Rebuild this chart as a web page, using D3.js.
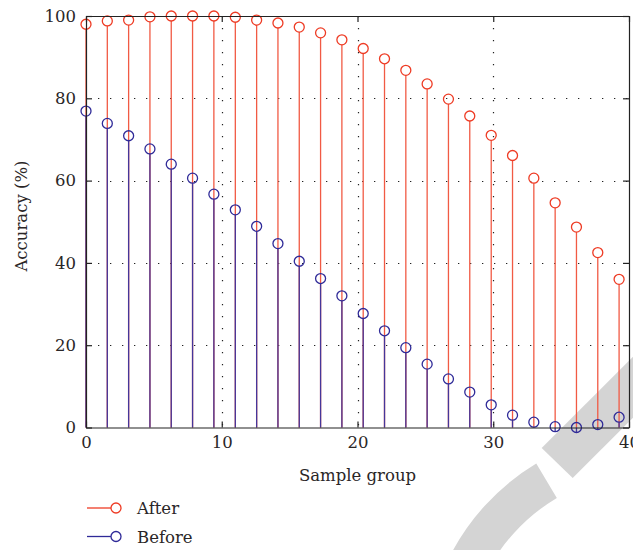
<!DOCTYPE html>
<html>
<head>
<meta charset="utf-8">
<script src="https://cdn.jsdelivr.net/npm/d3@7"></script>
<style>
  body { margin: 0; background: #fff; }
  svg text { font-family: "DejaVu Serif", "Liberation Serif", serif; fill: #2a2627; }
</style>
</head>
<body>
<svg id="chart" width="633" height="550"></svg>
<script>
// sample positions (x axis) and accuracy values
var sampleX = [0, 1.57, 3.14, 4.71, 6.28, 7.85, 9.42, 11.0, 12.57, 14.14, 15.71, 17.28, 18.85,
               20.42, 21.99, 23.56, 25.13, 26.70, 28.27, 29.85, 31.42, 32.99, 34.56, 36.13, 37.70, 39.27];
var afterVals = [98.0, 98.8, 99.0, 99.8, 100, 100, 100, 99.7, 99.0, 98.3, 97.3, 95.9, 94.2,
                 92.1, 89.6, 86.8, 83.5, 79.8, 75.7, 71.0, 66.1, 60.6, 54.6, 48.7, 42.5, 36.0];
var beforeVals = [76.9, 73.9, 70.9, 67.7, 64.0, 60.6, 56.7, 52.9, 48.9, 44.7, 40.4, 36.2, 32.0,
                  27.7, 23.5, 19.4, 15.4, 11.8, 8.6, 5.5, 3.0, 1.3, 0.2, 0.0, 0.7, 2.5];
var xTicks = [0, 10, 20, 30, 40];
var yTicks = [0, 20, 40, 60, 80, 100];
var seriesNames = ["After", "Before"];
var seriesColors = ["#ee3b24", "#2f2a98"];
var stemColors = ["#f15a44", "#45369a"];

var svg = d3.select("#chart");
var x = d3.scaleLinear().domain([0, 40]).range([86, 629]);
var y = d3.scaleLinear().domain([0, 100]).range([427.5, 16]);
var tickLen = 6;
var fontSize = 16.5;

/***********************************************************************************************************/
// grey watermark behind the plot

var wm = svg.append("g").attr("fill", "#d4d4d4");
wm.append("path").attr("d", "M541.7,448L572.7,478L633,417.7L633,356.7Z");
wm.append("path")
  .attr("transform", "translate(654,660)")
  .attr("d", d3.arc().innerRadius(189).outerRadius(229).startAngle(-0.54).endAngle(-1.7)());

/***********************************************************************************************************/
// dotted grid

var grid = svg.append("g").attr("stroke", "#222").attr("stroke-width", 1.2).attr("stroke-dasharray", "1.3,10.7");
grid.selectAll(".gy").data(yTicks.filter(function(d){return d > 0 && d < 100;})).enter().append("line")
  .attr("x1", x(0)).attr("x2", x(40))
  .attr("y1", function(d){return Math.round(y(d)) + 0.5;})
  .attr("y2", function(d){return Math.round(y(d)) + 0.5;});
grid.selectAll(".gx").data(xTicks.filter(function(d){return d > 0 && d < 40;})).enter().append("line")
  .attr("y1", y(100)).attr("y2", y(0))
  .attr("x1", function(d){return Math.round(x(d)) + 0.5;})
  .attr("x2", function(d){return Math.round(x(d)) + 0.5;});

/***********************************************************************************************************/
// stems and markers

function drawStems(vals, i){
  var g = svg.append("g");
  g.selectAll("line").data(vals).enter().append("line")
    .attr("x1", function(d, j){return x(sampleX[j]);})
    .attr("x2", function(d, j){return x(sampleX[j]);})
    .attr("y1", y(0))
    .attr("y2", function(d){return y(d) + 5;})
    .attr("stroke", stemColors[i])
    .attr("stroke-width", 1.3);
  g.selectAll("circle").data(vals).enter().append("circle")
    .attr("cx", function(d, j){return x(sampleX[j]);})
    .attr("cy", function(d){return y(d);})
    .attr("r", 5)
    .attr("fill", "none")
    .attr("stroke", seriesColors[i])
    .attr("stroke-width", 1.3);
}
drawStems(afterVals, 0);
drawStems(beforeVals, 1);

/***********************************************************************************************************/
// axes box with inward ticks on all four sides

var axL = svg.append("g").attr("transform", "translate(" + x(0) + ",0)")
  .call(d3.axisLeft(y).tickValues(yTicks).tickSizeInner(-tickLen).tickSizeOuter(0).tickPadding(10));
var axB = svg.append("g").attr("transform", "translate(0," + y(0) + ")")
  .call(d3.axisBottom(x).tickValues(xTicks).tickSizeInner(-tickLen).tickSizeOuter(0).tickPadding(9));
var axR = svg.append("g").attr("transform", "translate(" + x(40) + ",0)")
  .call(d3.axisRight(y).tickValues(yTicks).tickSizeInner(-tickLen).tickSizeOuter(0).tickFormat(""));
var axT = svg.append("g").attr("transform", "translate(0," + y(100) + ")")
  .call(d3.axisTop(x).tickValues(xTicks).tickSizeInner(-tickLen).tickSizeOuter(0).tickFormat(""));

[axL, axB, axR, axT].forEach(function(a){
  a.attr("font-size", null).attr("font-family", null);
  a.selectAll("path, line").attr("stroke", "#222").attr("stroke-width", 1.2);
  a.selectAll("text").attr("font-size", fontSize).attr("fill", "#2a2627");
});

/***********************************************************************************************************/
// axis titles

svg.append("text")
  .attr("x", (x(0) + x(40)) / 2).attr("y", 481)
  .attr("text-anchor", "middle").attr("font-size", fontSize)
  .text("Sample group");

svg.append("text")
  .attr("transform", "translate(27,216) rotate(-90)")
  .attr("text-anchor", "middle").attr("font-size", fontSize)
  .text("Accuracy (%)");

/***********************************************************************************************************/
// legend

var legend = svg.append("g").selectAll("g").data(seriesNames).enter().append("g")
  .attr("transform", function(d, i){return "translate(0," + (508 + i * 28.5) + ")";});
legend.append("line").attr("x1", 87).attr("x2", 111).attr("y1", 0).attr("y2", 0)
  .attr("stroke", function(d, i){return seriesColors[i];}).attr("stroke-width", 1.3);
legend.append("circle").attr("cx", 116).attr("cy", 0).attr("r", 5)
  .attr("fill", "none").attr("stroke", function(d, i){return seriesColors[i];}).attr("stroke-width", 1.3);
legend.append("text").attr("x", 137).attr("y", 6).attr("font-size", fontSize).text(function(d){return d;});
</script>
</body>
</html>
